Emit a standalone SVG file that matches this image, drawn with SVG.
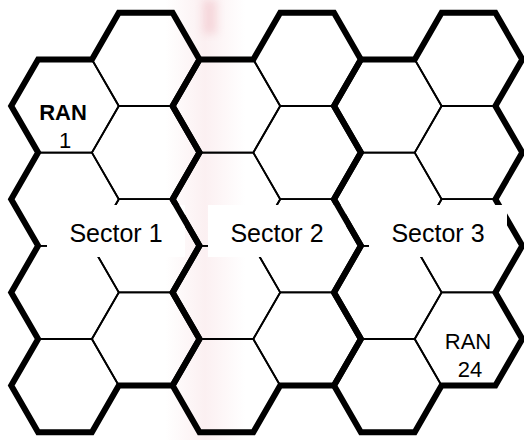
<svg xmlns="http://www.w3.org/2000/svg" xmlns:xlink="http://www.w3.org/1999/xlink" width="524" height="440" viewBox="0 0 524 440">
  <style>
    .cell { fill: none; stroke: #000; stroke-width: 1.8; stroke-linejoin: miter; }
    .edge { fill: none; stroke: #000; stroke-width: 6; stroke-linejoin: miter; }
    .box { fill: #fff; stroke: none; }
    .lbl { font-family: "Liberation Sans", Arial, sans-serif; fill: #000; text-anchor: middle; }
    .sector { font-size: 25px; }
    .ran { font-size: 22px; }
    .bold { font-weight: bold; }
  </style>
  <defs>
    <!-- flat-topped hexagon, side 53.8 -->
    <polygon id="hex" points="-53.8,0 -26.9,-46.6 26.9,-46.6 53.8,0 26.9,46.6 -26.9,46.6"/>
    <!-- outline of one two-column sector -->
    <path id="sectorOutline" d="M11.2,106 L38.1,59.4 L91.9,59.4 L118.8,12.8 L172.6,12.8 L199.5,59.4 L172.6,106 L199.5,152.6 L172.6,199.2 L199.5,245.8 L172.6,292.4 L199.5,339 L172.6,385.6 L118.8,385.6 L91.9,432.2 L38.1,432.2 L11.2,385.6 L38.1,339 L11.2,292.4 L38.1,245.8 L11.2,199.2 L38.1,152.6 Z"/>
    <linearGradient id="haze" x1="0" y1="0" x2="1" y2="0">
      <stop offset="0" stop-color="#e8a0aa" stop-opacity="0"/>
      <stop offset="0.5" stop-color="#e8a0aa" stop-opacity="0.16"/>
      <stop offset="1" stop-color="#e8a0aa" stop-opacity="0"/>
    </linearGradient>
    <filter id="soft" x="-100%" y="-20%" width="300%" height="140%">
      <feGaussianBlur stdDeviation="4"/>
    </filter>
  </defs>

  <rect width="524" height="440" fill="#fff"/>

  <!-- faint pink band -->
  <rect x="165" y="0" width="80" height="440" fill="url(#haze)"/>
  <rect x="203" y="0" width="14" height="34" fill="#e07a88" opacity="0.22" filter="url(#soft)"/>

  <!-- hexagonal cells -->
  <g id="cells">
    <g id="cell-0-0"><use xlink:href="#hex" href="#hex" x="65" y="106" class="cell"/></g>
    <g id="cell-0-1"><use xlink:href="#hex" href="#hex" x="65" y="199.2" class="cell"/></g>
    <g id="cell-0-2"><use xlink:href="#hex" href="#hex" x="65" y="292.4" class="cell"/></g>
    <g id="cell-0-3"><use xlink:href="#hex" href="#hex" x="65" y="385.6" class="cell"/></g>
    <g id="cell-1-0"><use xlink:href="#hex" href="#hex" x="145.7" y="59.4" class="cell"/></g>
    <g id="cell-1-1"><use xlink:href="#hex" href="#hex" x="145.7" y="152.6" class="cell"/></g>
    <g id="cell-1-2"><use xlink:href="#hex" href="#hex" x="145.7" y="245.8" class="cell"/></g>
    <g id="cell-1-3"><use xlink:href="#hex" href="#hex" x="145.7" y="339" class="cell"/></g>
    <g id="cell-2-0"><use xlink:href="#hex" href="#hex" x="226.4" y="106" class="cell"/></g>
    <g id="cell-2-1"><use xlink:href="#hex" href="#hex" x="226.4" y="199.2" class="cell"/></g>
    <g id="cell-2-2"><use xlink:href="#hex" href="#hex" x="226.4" y="292.4" class="cell"/></g>
    <g id="cell-2-3"><use xlink:href="#hex" href="#hex" x="226.4" y="385.6" class="cell"/></g>
    <g id="cell-3-0"><use xlink:href="#hex" href="#hex" x="307.1" y="59.4" class="cell"/></g>
    <g id="cell-3-1"><use xlink:href="#hex" href="#hex" x="307.1" y="152.6" class="cell"/></g>
    <g id="cell-3-2"><use xlink:href="#hex" href="#hex" x="307.1" y="245.8" class="cell"/></g>
    <g id="cell-3-3"><use xlink:href="#hex" href="#hex" x="307.1" y="339" class="cell"/></g>
    <g id="cell-4-0"><use xlink:href="#hex" href="#hex" x="387.8" y="106" class="cell"/></g>
    <g id="cell-4-1"><use xlink:href="#hex" href="#hex" x="387.8" y="199.2" class="cell"/></g>
    <g id="cell-4-2"><use xlink:href="#hex" href="#hex" x="387.8" y="292.4" class="cell"/></g>
    <g id="cell-4-3"><use xlink:href="#hex" href="#hex" x="387.8" y="385.6" class="cell"/></g>
    <g id="cell-5-0"><use xlink:href="#hex" href="#hex" x="468.5" y="59.4" class="cell"/></g>
    <g id="cell-5-1"><use xlink:href="#hex" href="#hex" x="468.5" y="152.6" class="cell"/></g>
    <g id="cell-5-2"><use xlink:href="#hex" href="#hex" x="468.5" y="245.8" class="cell"/></g>
    <g id="cell-5-3"><use xlink:href="#hex" href="#hex" x="468.5" y="339" class="cell"/></g>
  </g>

  <!-- sector boundaries -->
  <g id="sector-1">
    <use xlink:href="#sectorOutline" href="#sectorOutline" class="edge"/>
    <rect class="box" x="47" y="205" width="138" height="52"/>
    <text class="lbl sector" x="116" y="242">Sector 1</text>
  </g>
  <g id="sector-2">
    <use xlink:href="#sectorOutline" href="#sectorOutline" x="161.4" class="edge"/>
    <rect class="box" x="208" y="205" width="138" height="52"/>
    <text class="lbl sector" x="277" y="242">Sector 2</text>
  </g>
  <g id="sector-3">
    <use xlink:href="#sectorOutline" href="#sectorOutline" x="322.8" class="edge"/>
    <rect class="box" x="369" y="205" width="138" height="52"/>
    <text class="lbl sector" x="438" y="242">Sector 3</text>
  </g>

  <!-- cell labels -->
  <g id="ran-1">
    <text class="lbl ran bold" x="63" y="120">RAN</text>
    <text class="lbl ran" x="65" y="148">1</text>
  </g>
  <g id="ran-24">
    <text class="lbl ran" x="468" y="349">RAN</text>
    <text class="lbl ran" x="470" y="377">24</text>
  </g>
</svg>
